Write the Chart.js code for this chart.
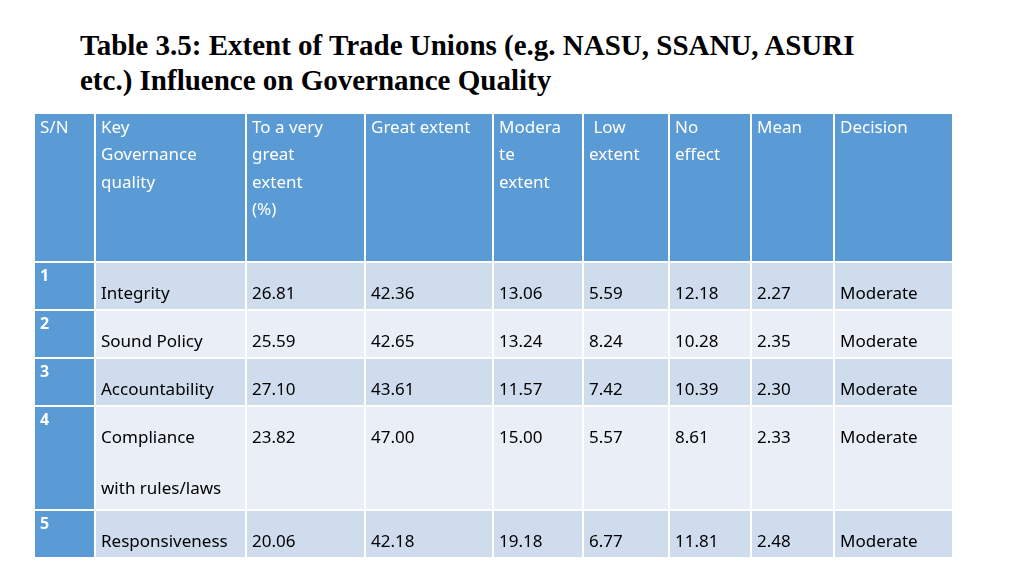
<!DOCTYPE html>
<html><head><meta charset="utf-8">
<script src="https://cdn.jsdelivr.net/npm/chart.js"></script>
<style>
body{margin:0;background:#fff;width:1024px;height:576px;overflow:hidden;position:relative}
#t{position:absolute;left:80px;top:28px;font:bold 29px "Liberation Serif",serif;line-height:35px;color:#000}
canvas{position:absolute;left:0;top:0}
</style></head><body>
<div id="t">Table 3.5: Extent of Trade Unions (e.g. NASU, SSANU, ASURI<br>etc.) Influence on Governance Quality</div>
<canvas id="c" width="1024" height="576"></canvas>
<script>
const headers=[["S/N"],["Key","Governance","quality"],["To a very","great","extent","(%)"],["Great extent"],["Modera","te","extent"],[" Low","extent"],["No","effect"],["Mean"],["Decision"]];
const categories=[["Integrity"],["Sound Policy"],["Accountability"],["Compliance","with rules/laws"],["Responsiveness"]];
const veryGreat=["26.81","25.59","27.10","23.82","20.06"];
const great=["42.36","42.65","43.61","47.00","42.18"];
const moderate=["13.06","13.24","11.57","15.00","19.18"];
const low=["5.59","8.24","7.42","5.57","6.77"];
const noEffect=["12.18","10.28","10.39","8.61","11.81"];
const mean=["2.27","2.35","2.30","2.33","2.48"];
const decision=["Moderate","Moderate","Moderate","Moderate","Moderate"];
const colEdges=[34,95,246,365,493,583,669,751,834,953];
const rowEdges=[113,262,310,358,406,510,558];
const tablePlugin={id:'table',afterDraw(ch){
 const ctx=ch.ctx,X=ch.scales.x,Y=ch.scales.y;
 const px=v=>X.getPixelForValue(v),py=v=>Y.getPixelForValue(v);
 ctx.save();
 const cols=[null,null,veryGreat,great,moderate,low,noEffect,mean,decision];
 for(let r=0;r<rowEdges.length-1;r++){
  for(let c=0;c<colEdges.length-1;c++){
   const x0=px(colEdges[c]),x1=px(colEdges[c+1]),y0=py(rowEdges[r]),y1=py(rowEdges[r+1]);
   let fill;
   if(r===0||c===0) fill='#5b9bd5'; else fill=(r%2===1)?'#cfdcee':'#e9eef7';
   ctx.fillStyle=fill;ctx.fillRect(x0+1,y0+1,x1-x0-2,y1-y0-2);
   ctx.font='17px "Noto Sans", sans-serif';ctx.textBaseline='middle';
   if(r===0){
    ctx.fillStyle='#fff';
    headers[c].forEach((s,i)=>ctx.fillText(s,x0+6,y0+15+i*27.5));
   } else {
    const i=r-1;
    if(c===0){ctx.fillStyle='#fff';ctx.font='bold 16px "Noto Sans", sans-serif';ctx.fillText(String(r),x0+6,y0+14);}
    else{
     ctx.fillStyle='#000';
     const lines=c===1?categories[i]:[cols[c][i]];
     const base=y0+32;
     lines.forEach((s,k)=>ctx.fillText(s,x0+6,base+k*51));
    }
   }
  }
 }
 ctx.restore();
}};
new Chart(document.getElementById('c'),{type:'scatter',data:{datasets:[{data:[]}]},
 options:{responsive:false,animation:false,events:[],
  layout:{padding:{left:34,right:71,top:113,bottom:18}},
  plugins:{legend:{display:false},tooltip:{enabled:false}},
  scales:{x:{type:'linear',min:34,max:953,display:false},y:{type:'linear',min:113,max:558,reverse:true,display:false}}},
 plugins:[tablePlugin]});
</script></body></html>
